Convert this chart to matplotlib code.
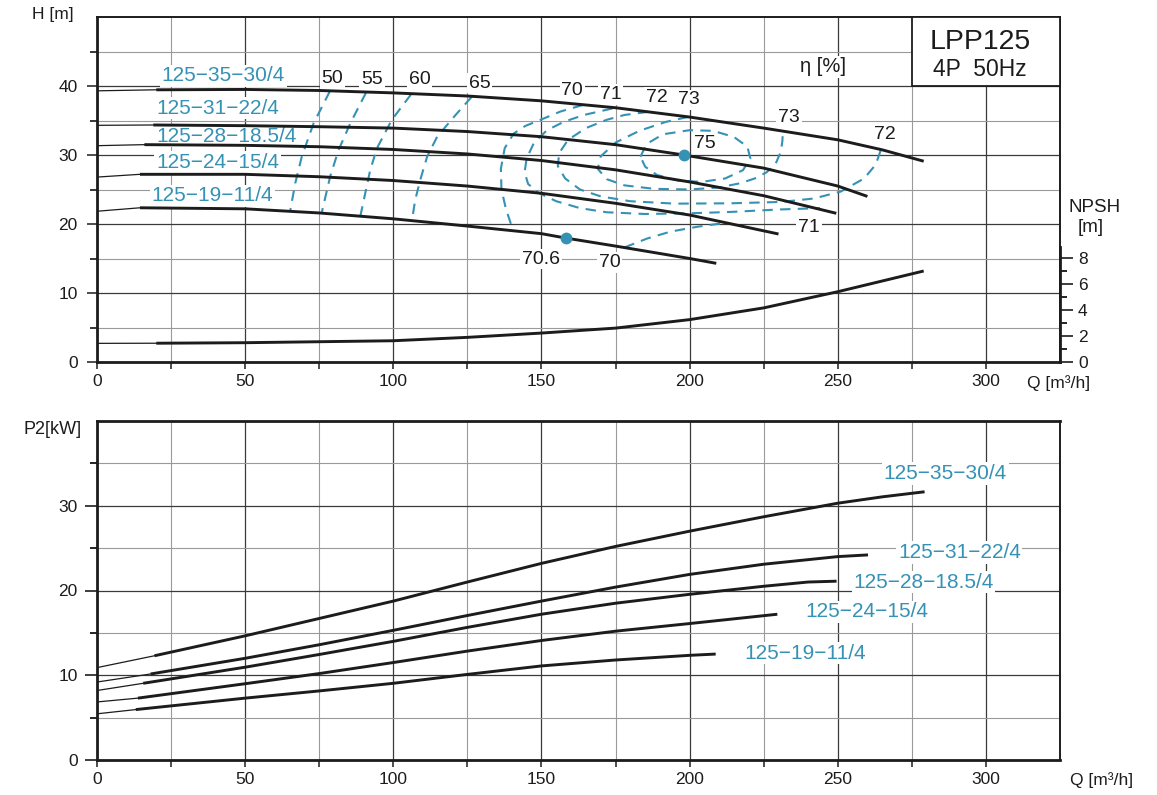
import matplotlib
matplotlib.use("Agg")
import matplotlib.pyplot as plt
from matplotlib.patches import Rectangle

plt.rcParams["font.family"] = ["Liberation Sans", "DejaVu Sans"]

TEAL = "#3592b4"
INK = "#1c1c1c"
W, H = 1157, 795

MODELS = ["125−35−30/4", "125−31−22/4", "125−28−18.5/4", "125−24−15/4", "125−19−11/4"]

# H-Q curves; segment between first two points is the thin extension
HQ_Q = [
    [0, 20, 50, 75, 100, 125, 150, 175, 200, 225, 250, 265, 279],
    [0, 19, 50, 75, 100, 125, 150, 175, 198, 225, 250, 260],
    [0, 16, 50, 75, 100, 125, 150, 175, 200, 225, 249.5],
    [0, 14.5, 50, 75, 100, 125, 150, 175, 200, 230],
    [0, 14.5, 50, 75, 100, 125, 150, 158.4, 175, 200, 209],
]
HQ_H = [
    [39.3, 39.45, 39.5, 39.35, 39.0, 38.55, 37.85, 36.85, 35.5, 33.9, 32.2, 30.75, 29.1],
    [34.3, 34.35, 34.25, 34.1, 33.9, 33.4, 32.65, 31.5, 30.0, 28.1, 25.5, 24.0],
    [31.35, 31.5, 31.4, 31.2, 30.8, 30.15, 29.2, 27.85, 26.1, 24.1, 21.55],
    [26.8, 27.2, 27.2, 26.85, 26.3, 25.5, 24.45, 23.0, 21.3, 18.55],
    [21.85, 22.35, 22.2, 21.6, 20.75, 19.7, 18.6, 17.95, 16.8, 15.0, 14.3],
]

# NPSH [m] vs Q
NPSH_Q = [0, 20, 50, 100, 125, 150, 175, 200, 225, 250, 279]
NPSH_M = [1.43, 1.44, 1.48, 1.63, 1.89, 2.22, 2.6, 3.25, 4.15, 5.39, 6.98]

# P2 curves
P_Q = [
    [0, 19.4, 50, 75, 100, 125, 150, 175, 200, 225, 250, 265, 279.3],
    [0, 18.1, 50, 75, 100, 125, 150, 175, 200, 225, 250, 260.2],
    [0, 15.6, 50, 75, 100, 125, 150, 175, 200, 225, 240, 249.6],
    [0, 13.8, 50, 75, 100, 125, 150, 175, 200, 229.6],
    [0, 13.1, 50, 75, 100, 125, 150, 175, 200, 208.8],
]
P_KW = [
    [10.9, 12.3, 14.65, 16.7, 18.75, 21.0, 23.2, 25.2, 27.0, 28.7, 30.3, 31.05, 31.65],
    [9.2, 10.15, 12.0, 13.6, 15.3, 17.05, 18.75, 20.4, 21.9, 23.1, 24.0, 24.2],
    [8.2, 9.05, 10.95, 12.45, 14.0, 15.65, 17.2, 18.5, 19.55, 20.5, 21.0, 21.1],
    [6.85, 7.3, 9.0, 10.2, 11.5, 12.85, 14.1, 15.2, 16.1, 17.2],
    [5.45, 5.95, 7.3, 8.15, 9.05, 10.1, 11.1, 11.8, 12.35, 12.5],
]

# iso-efficiency lines (Q, H)
ETA50_Q = [78.6, 73.1, 69.1, 66.9, 65.2]
ETA50_H = [39.25, 34.6, 29.75, 25.9, 21.9]
ETA55_Q = [90.8, 85.5, 81.5, 78.7, 75.9]
ETA55_H = [39.05, 34.6, 30.7, 26.9, 21.75]
ETA60_Q = [106, 99.5, 94.5, 92.2, 90.5, 88.9]
ETA60_H = [38.8, 35.1, 31.0, 27.8, 24.4, 21.2]
ETA65_Q = [126.5, 120.4, 114.8, 111.4, 109.1, 107.4, 106.3]
ETA65_H = [38.45, 35.5, 32.65, 29.75, 26.4, 23.5, 20.55]
ETA70L_Q = [164, 156.4, 150.8, 144.5, 140.6, 137.6, 136.3, 136.5, 138, 140.2]
ETA70L_H = [37.25, 36.3, 35.3, 34.2, 33.1, 31.0, 28.0, 25.0, 22.2, 19.35]
ETA70R_Q = [178, 185.7, 193.6, 202.6, 209.3, 213]
ETA70R_H = [16.6, 17.9, 18.9, 19.6, 20.0, 20.1]
ETA71_Q = [174, 164.3, 157.5, 151.9, 147.5, 145, 144.3, 145.5, 149, 155, 163, 172,
           185, 200, 214, 230, 244]
ETA71_H = [36.75, 35.8, 34.8, 33.6, 31.8, 29.5, 27.5, 25.8, 24.5, 23.3, 22.3, 21.7,
           21.45, 21.55, 21.75, 22.1, 22.3]
ETA72_Q = [186, 178, 172, 165, 159, 156, 155.5, 158, 163, 170, 180, 195, 214, 231,
           242, 251, 258.9, 262.8, 264.5]
ETA72_H = [36.25, 35.8, 35.1, 33.9, 32.2, 30.3, 28.4, 26.6, 25.0, 24.0, 23.3, 22.95,
           23.0, 23.2, 23.7, 24.7, 26.6, 28.6, 30.7]
ETA73_Q = [199.5, 192, 183, 175, 170, 169, 172, 178, 188, 200, 210, 217, 222, 226,
           229, 230.8, 231.3, 231.5]
ETA73_H = [35.52, 34.8, 33.5, 31.8, 29.8, 28.0, 26.5, 25.6, 25.1, 25.0, 25.3, 25.9,
           26.6, 27.5, 28.7, 30.5, 32.0, 33.5]
ETA75_Q = [183.4, 185.5, 191, 200, 208, 215, 219.5, 220.5, 218, 212, 204, 196, 189,
           185, 183.4]
ETA75_H = [29.75, 31.6, 33.0, 33.6, 33.5, 32.6, 31.2, 29.5, 27.8, 26.6, 26.1, 26.3,
           27.1, 28.3, 29.75]

BEP_Q = [198, 158.4]
BEP_H = [30.0, 17.95]

ETA_TEXT = [("50", 79.4, 41.1), ("55", 92.8, 40.9), ("60", 108.8, 40.9),
            ("65", 129.1, 40.4), ("70", 160.4, 39.4), ("71", 173.3, 38.8),
            ("72", 188.8, 38.3), ("73", 199.8, 38.0), ("73", 233.5, 35.4),
            ("72", 265.9, 32.9), ("75", 205.1, 31.6), ("71", 240.3, 19.5),
            ("70.6", 149.9, 14.9), ("70", 173.0, 14.4)]


def box(l, t, r, b):
    return [l / W, 1 - b / H, (r - l) / W, (b - t) / H]


def style(a, yt, ytm):
    a.set_xlim(0, 325)
    a.set_xticks([0, 50, 100, 150, 200, 250, 300])
    a.set_xticks([25, 75, 125, 175, 225, 275], minor=True)
    a.set_yticks(yt)
    a.set_yticks(ytm, minor=True)
    a.grid(which="major", color="#3a3a3a", lw=0.9)
    a.grid(which="minor", color="#9a9a9a", lw=0.8)
    a.set_axisbelow(True)
    a.tick_params(axis="x", which="both", length=5, width=1.1, pad=3.5,
                  labelsize=12.5, colors=INK)
    for s in ("left", "bottom"):
        a.spines[s].set_linewidth(2.0)
    for s in ("top", "right"):
        a.spines[s].set_linewidth(1.4)
    for s in a.spines.values():
        s.set_color(INK)


def curve(a, q, y):
    a.plot(q[:2], y[:2], color=INK, lw=0.9, zorder=4)
    a.plot(q[1:], y[1:], color=INK, lw=2.1, zorder=4, solid_capstyle="butt")


fig = plt.figure(figsize=(W / 100, H / 100), dpi=100)
lab_box = dict(facecolor="white", edgecolor="none", pad=1.2)

# ---- head / efficiency / NPSH
ax = fig.add_axes(box(97, 17, 1060, 362))
style(ax, [0, 10, 20, 30, 40], [5, 15, 25, 35, 45])
ax.set_ylim(0, 50)
ax.tick_params(axis="y", which="major", length=7, width=1.1, pad=7, labelsize=12.5, colors=INK)
ax.tick_params(axis="y", which="minor", length=5, width=1.1)

for q, h in zip(HQ_Q, HQ_H):
    curve(ax, q, h)

dash = dict(color=TEAL, lw=1.5, dashes=(5, 3.5), zorder=3)
for q, h in [(ETA50_Q, ETA50_H), (ETA55_Q, ETA55_H), (ETA60_Q, ETA60_H),
             (ETA65_Q, ETA65_H), (ETA70L_Q, ETA70L_H), (ETA70R_Q, ETA70R_H),
             (ETA71_Q, ETA71_H), (ETA72_Q, ETA72_H), (ETA73_Q, ETA73_H),
             (ETA75_Q, ETA75_H)]:
    ax.plot(q, h, **dash)
ax.plot(BEP_Q, BEP_H, "o", color=TEAL, ms=7.5, zorder=5)

for txt, q, h in ETA_TEXT:
    ax.text(q, h, txt, ha="center", va="center", fontsize=14, color=INK,
            bbox=lab_box, zorder=2.5)
ax.text(244.9, 42.8, "η [%]", ha="center", va="center", fontsize=14.5, color=INK,
        bbox=lab_box, zorder=2.5)

for name, q, h in zip(MODELS, [21.8, 20.1, 20.1, 19.9, 18.5],
                      [41.45, 36.8, 32.75, 28.9, 24.06]):
    ax.text(q, h, name, ha="left", va="center", fontsize=15, color=TEAL,
            bbox=lab_box, zorder=2.5)

ax.add_patch(Rectangle((275, 40), 50, 10, facecolor="white", edgecolor=INK,
                       lw=1.3, zorder=6, clip_on=False))
fig.text(980 / W, 1 - 41.7 / H, "LPP125", ha="center", va="center", fontsize=20.5, color=INK)
fig.text(980 / W, 1 - 70 / H, "4P  50Hz", ha="center", va="center", fontsize=16.5, color=INK)

ax2 = ax.twinx()
ax2.set_ylim(0, 26.46)
ax2.set_yticks([0, 2, 4, 6, 8])
ax2.set_yticks([1, 3, 5, 7], minor=True)
ax2.tick_params(which="major", length=9.5, width=1.2, pad=3.5, labelsize=12.5, colors=INK)
ax2.tick_params(which="minor", length=5, width=1.2)
for s in ("top", "left", "bottom"):
    ax2.spines[s].set_visible(False)
ax2.spines["right"].set_bounds(0, 8.8)
ax2.spines["right"].set_linewidth(2.0)
ax2.spines["right"].set_color(INK)
curve(ax2, NPSH_Q, NPSH_M)

fig.text(52.5 / W, 1 - 15 / H, "H [m]", ha="center", va="center", fontsize=12.5, color=INK)
fig.text(1094.5 / W, 1 - 207 / H, "NPSH", ha="center", va="center", fontsize=13.5, color=INK)
fig.text(1090.5 / W, 1 - 227 / H, "[m]", ha="center", va="center", fontsize=13.5, color=INK)
fig.text(1058.5 / W, 1 - 383 / H, "Q [m³/h]", ha="center", va="center", fontsize=12.5, color=INK)

# ---- power
axp = fig.add_axes(box(97, 421, 1060, 760))
style(axp, [0, 10, 20, 30], [5, 15, 25, 35])
axp.set_ylim(0, 40)
axp.spines["top"].set_linewidth(2.0)
axp.tick_params(axis="y", which="major", length=9, width=1.2, pad=5, labelsize=12.5, colors=INK)
axp.tick_params(axis="y", which="minor", length=5, width=1.2)

for q, p in zip(P_Q, P_KW):
    curve(axp, q, p)

for name, q, p in zip(MODELS, [265.5, 270.3, 255.2, 239.0, 218.6],
                      [33.8, 24.5, 21.0, 17.5, 12.6]):
    axp.text(q, p, name, ha="left", va="center", fontsize=15, color=TEAL,
             bbox=lab_box, zorder=2.5)

fig.text(52.5 / W, 1 - 430 / H, "P2[kW]", ha="center", va="center", fontsize=13, color=INK)
fig.text(1101.5 / W, 1 - 780 / H, "Q [m³/h]", ha="center", va="center", fontsize=12.5, color=INK)

fig.savefig("out.png", dpi=100)
